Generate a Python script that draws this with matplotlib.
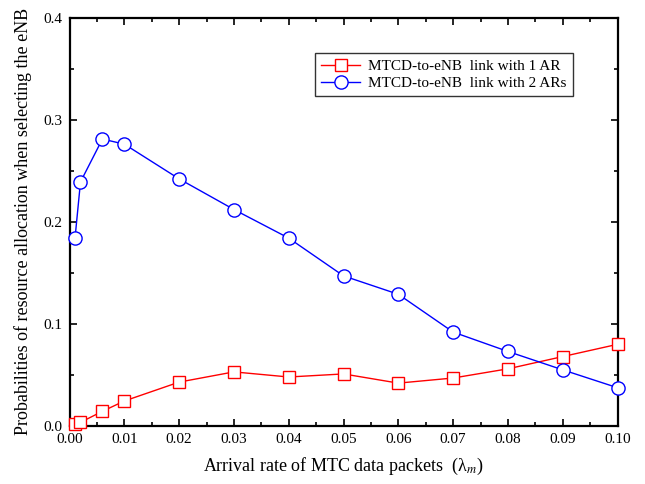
import numpy as np
import matplotlib.pyplot as plt
from matplotlib.ticker import MultipleLocator

plt.rcParams['font.family'] = ['Liberation Serif', 'DejaVu Serif']
plt.rcParams['mathtext.fontset'] = 'stix'

# arrival rate (x) and the two curves
lam = [0.001, 0.002, 0.006, 0.01, 0.02, 0.03, 0.04, 0.05, 0.06, 0.07, 0.08, 0.09, 0.10]
one_ar = [0.0017, 0.0036, 0.0144, 0.0245, 0.043, 0.053, 0.048, 0.051, 0.042, 0.047, 0.056, 0.068, 0.080]
two_ar = [0.184, 0.239, 0.281, 0.276, 0.242, 0.212, 0.184, 0.147, 0.129, 0.092, 0.073, 0.055, 0.0375]

fig = plt.figure(figsize=(6.45, 4.84), dpi=100)
ax = fig.add_axes([0.1078, 0.1198, 0.8496, 0.8440])

ax.plot(lam, one_ar, color='#ff0000', lw=1, marker='s', ms=8.5, mfc='white', mec='#ff0000', mew=1,
        label='MTCD-to-eNB  link with 1 AR', clip_on=False, zorder=3)
ax.plot(lam, two_ar, color='#0000ff', lw=1, marker='o', ms=9.5, mfc='white', mec='#0000ff', mew=1,
        label='MTCD-to-eNB  link with 2 ARs', clip_on=False, zorder=3)

ax.set_xlim(0, 0.10)
ax.set_ylim(0, 0.4)
ax.xaxis.set_major_locator(MultipleLocator(0.01))
ax.xaxis.set_minor_locator(MultipleLocator(0.005))
ax.yaxis.set_major_locator(MultipleLocator(0.1))
ax.yaxis.set_minor_locator(MultipleLocator(0.05))
ax.xaxis.set_major_formatter(plt.FormatStrFormatter('%.2f'))
ax.yaxis.set_major_formatter(plt.FormatStrFormatter('%.1f'))
ax.tick_params(which='both', direction='in', top=True, right=True, labelsize=11, width=1.2)
ax.tick_params(which='major', length=5, pad=5)
ax.tick_params(which='minor', length=3)
for s in ax.spines.values():
    s.set_linewidth(1.6)

ax.set_xlabel('Arrival rate of MTC data packets  (λ$_{m}$)', fontsize=13, labelpad=7)
ax.set_ylabel('Probabilities of resource allocation when selecting the eNB', fontsize=13, labelpad=8)

leg = ax.legend(loc='upper right', bbox_to_anchor=(0.918, 0.913), fontsize=11, frameon=True,
                fancybox=False, edgecolor='black', handlelength=2.6, borderpad=0.4,
                labelspacing=0.25, handletextpad=0.5, borderaxespad=0)
leg.get_frame().set_linewidth(1.0)

plt.savefig('out.png', dpi=100)
